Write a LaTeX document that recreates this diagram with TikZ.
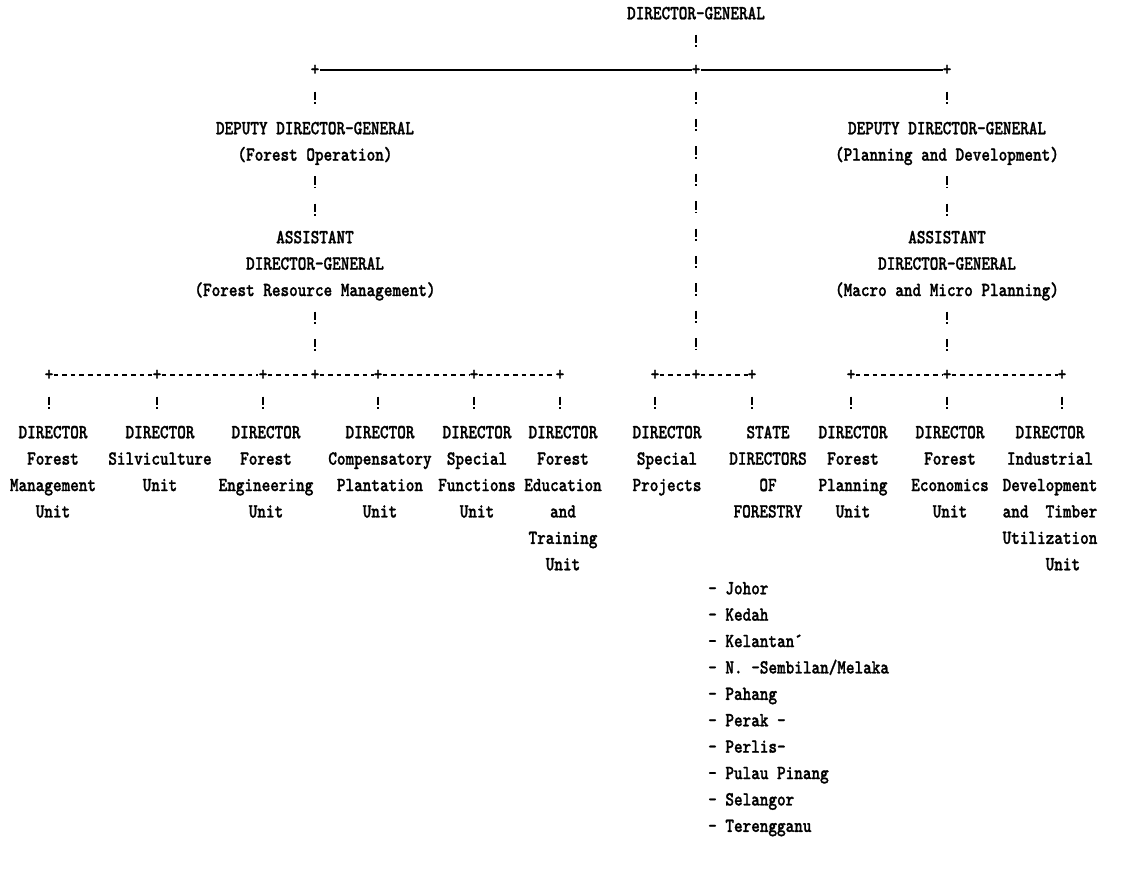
\documentclass[tikz,border=0pt]{standalone}
\usepackage{fontspec}
\usetikzlibrary{positioning, calc}

\newfontfamily\typed{lmmonolt10-bold.otf}[FakeStretch=0.82, FakeBold=1.2]

% rows are about 26.4pt apart inside a block, 27.4pt along the "!" lines
\tikzset{
  orgbox/.style={font=\fontsize{20}{26.4}\selectfont\typed, align=center,
    inner sep=0pt, anchor=north, execute at end node=\strut},
  crossmark/.style={font=\fontsize{20}{26.4}\selectfont\typed,
    inner sep=0pt, minimum height=28pt},
  bangline/.style={line width=1.6pt, dash pattern=on 8.4pt off 2pt on 1.8pt off 15.2pt, dash phase=20.1pt},
  solidrule/.style={line width=1.8pt},
  typedash/.style={line width=1.3pt, dash pattern=on 4.6pt off 4pt},
}

\begin{document}
\begin{tikzpicture}[x=1pt, y=-1pt]
  \useasboundingbox (0,0) rectangle (1131,876);

  % ===== TOP =====
  \node[orgbox] (dg) at (696,0.6) {\strut DIRECTOR-GENERAL};

  \node[crossmark] (jL) at (315,70) {+};
  \node[crossmark] (jC) at (696,70) {+};
  \node[crossmark] (jR) at (947,70) {+};

  \draw[solidrule] (jL) -- (jC) -- (jR);
  \draw[bangline] (dg) -- (dg |- jC.north);

  % ===== DEPUTY / ASSISTANT (left) =====
  \node[orgbox] (depL) at (315,115.6) {\strut DEPUTY DIRECTOR-GENERAL\\(Forest Operation)};
  \node[orgbox] (adgL) at (315,224.6) {\strut ASSISTANT\\DIRECTOR-GENERAL\\(Forest Resource Management)};

  % ===== DEPUTY / ASSISTANT (right) =====
  \node[orgbox] (depR) at (947,115.6) {\strut DEPUTY DIRECTOR-GENERAL\\(Planning and Development)};
  \node[orgbox] (adgR) at (947,224.6) {\strut ASSISTANT\\DIRECTOR-GENERAL\\(Macro and Micro Planning)};

  \draw[bangline] (jL) -- (jL |- depL.north);
  \draw[bangline] (depL) -- (adgL);
  \draw[bangline] (jR) -- (jR |- depR.north);
  \draw[bangline] (depR) -- (adgR);

  % ===== junction row =====
  \node[crossmark] (jLG) at (315,375) {+};
  \node[crossmark] (jM) at (696,375) {+};
  \node[crossmark] (jRG) at (947,375) {+};

  \draw[bangline] (adgL) -- (adgL |- jLG.north);
  \draw[bangline] (adgR) -- (adgR |- jRG.north);
  \draw[bangline] (jC) -- (jC |- jM.north);

  % left group
  \node[crossmark] (a1) at (49,375) {+};
  \node[crossmark] (a2) at (157,375) {+};
  \node[crossmark] (a3) at (263,375) {+};
  \node[crossmark] (a4) at (378,375) {+};
  \node[crossmark] (a5) at (474,375) {+};
  \node[crossmark] (a6) at (560,375) {+};
  \draw[typedash] (a1) -- (a2) -- (a3) -- (jLG) -- (a4) -- (a5) -- (a6);

  % middle group
  \node[crossmark] (m1) at (655,375) {+};
  \node[crossmark] (m2) at (752,375) {+};
  \draw[typedash] (m1) -- (jM) -- (m2);

  % right group
  \node[crossmark] (b1) at (851,375) {+};
  \node[crossmark] (b3) at (1062,375) {+};
  \draw[typedash] (b1) -- (jRG) -- (b3);

  % ===== DIRECTORS =====
  \node[orgbox] (d1) at (53,419.6) {\strut DIRECTOR\\Forest\\Management\\Unit};
  \node[orgbox] (d2) at (160,419.6) {\strut DIRECTOR\\Silviculture\\Unit};
  \node[orgbox] (d3) at (266,419.6) {\strut DIRECTOR\\Forest\\Engineering\\Unit};
  \node[orgbox] (d4) at (380,419.6) {\strut DIRECTOR\\Compensatory\\Plantation\\Unit};
  \node[orgbox] (d5) at (477,419.6) {\strut DIRECTOR\\Special\\Functions\\Unit};
  \node[orgbox] (d6) at (563,419.6) {\strut DIRECTOR\\Forest\\Education\\and\\Training\\Unit};

  \node[orgbox] (sp) at (667,419.6) {\strut DIRECTOR\\Special\\Projects};
  \node[orgbox] (sd) at (768,419.6) {\strut STATE\\DIRECTORS\\OF\\FORESTRY};

  \node[orgbox] (fp) at (853,419.6) {\strut DIRECTOR\\Forest\\Planning\\Unit};
  \node[orgbox] (fe) at (950,419.6) {\strut DIRECTOR\\Forest\\Economics\\Unit};
  \node[orgbox] (idt) at (1050,419.6) {\strut DIRECTOR\\Industrial\\Development\\and\ \ Timber\\Utilization\\\phantom{Uti}Unit};

  \foreach \j/\d in {a1/d1, a2/d2, a3/d3, a4/d4, a5/d5, a6/d6, m1/sp, m2/sd, b1/fp, jRG/fe, b3/idt}
    \draw[bangline] (\j) -- (\j |- \d.north);

  % states
  \node[orgbox, anchor=north west, align=left] (states) at (708,575.6)
    {\strut - Johor\\- Kedah\\- Kelantan\textasciiacute\\- N. -Sembilan/Melaka\\- Pahang\\- Perak -\\- Perlis-\\- Pulau Pinang\\- Selangor\\- Terengganu};
\end{tikzpicture}
\end{document}
